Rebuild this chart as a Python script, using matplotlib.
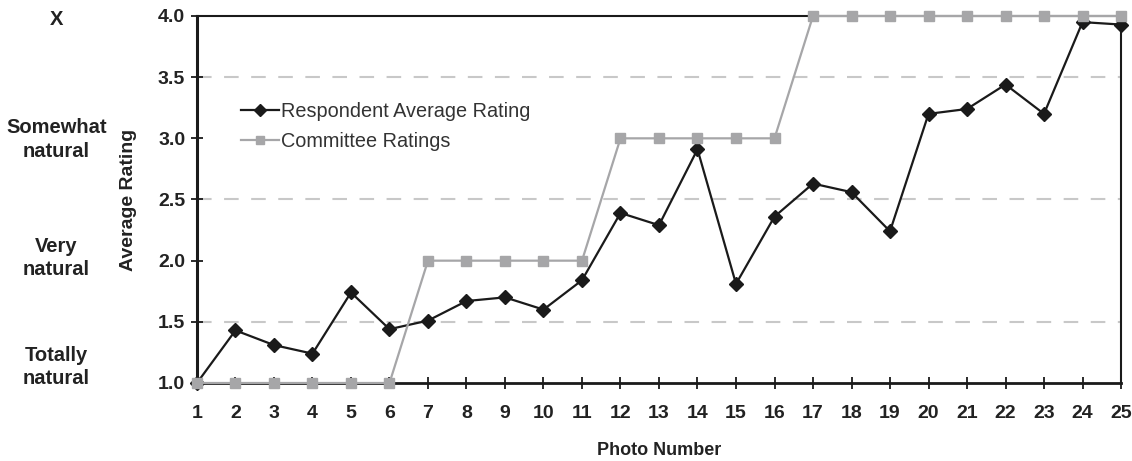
import numpy as np
import matplotlib
matplotlib.use("Agg")
import matplotlib.pyplot as plt
from matplotlib.transforms import blended_transform_factory

plt.rcParams["font.family"] = ["Liberation Sans", "DejaVu Sans"]
NARROW = ["Liberation Sans Narrow", "Liberation Sans", "DejaVu Sans"]

photos = np.arange(1, 26)
respondent = [1.00, 1.43, 1.31, 1.24, 1.74, 1.44, 1.51, 1.67, 1.70, 1.60,
              1.84, 2.39, 2.29, 2.91, 1.81, 2.36, 2.63, 2.56, 2.24, 3.20,
              3.24, 3.44, 3.20, 3.95, 3.93]
committee = [1, 1, 1, 1, 1, 1, 2, 2, 2, 2,
             2, 3, 3, 3, 3, 3, 4, 4, 4, 4,
             4, 4, 4, 4, 4]
y_ticks = [1.0, 1.5, 2.0, 2.5, 3.0, 3.5, 4.0]
grid_levels = [1.5, 2.5, 3.5]
scale_labels = [(3.97, "X"), (2.99, "Somewhat\nnatural"),
                (2.02, "Very\nnatural"), (1.13, "Totally\nnatural")]

TXT = "#222222"

fig = plt.figure(figsize=(11.32, 4.61), dpi=100)
ax = fig.add_axes([0.174, 0.1692, 0.8163, 0.7961])

for lvl in grid_levels:
    ax.axhline(lvl, color="#c8c8c8", lw=1.5, dashes=(7, 6), zorder=1)

ax.plot(photos, respondent, color="#1a1a1a", lw=1.6, marker="D",
        markersize=7, label="Respondent Average Rating", zorder=4, clip_on=False)
ax.plot(photos, committee, color="#a6a6a8", lw=1.6, marker="s",
        markersize=6.5, label="Committee Ratings", zorder=5, clip_on=False)

ax.set_xlim(1, 25)
ax.set_ylim(1.0, 4.0)
ax.set_xticks(photos)
ax.set_yticks(y_ticks)
ax.set_yticklabels([f"{v:.1f}" for v in y_ticks])

for side in ["left", "bottom", "top", "right"]:
    ax.spines[side].set_color("#1a1a1a")
    ax.spines[side].set_zorder(3)
ax.spines["left"].set_linewidth(2.2)
ax.spines["bottom"].set_linewidth(2.0)
ax.spines["top"].set_linewidth(1.5)
ax.spines["right"].set_linewidth(1.5)

ax.tick_params(axis="x", direction="inout", length=9, width=1.3,
               color="#1a1a1a", pad=11, labelcolor=TXT)
ax.tick_params(axis="y", direction="inout", length=9, width=1.3,
               color="#1a1a1a", pad=4, labelsize=14, labelcolor=TXT)
for lab in ax.get_xticklabels():
    lab.set_family(NARROW)
    lab.set_fontsize(14)
    lab.set_fontweight("bold")
for lab in ax.get_yticklabels():
    lab.set_fontweight("bold")

ax.set_xlabel("Photo Number", fontsize=13, fontweight="bold", color=TXT,
              family=NARROW, labelpad=15)
ax.set_ylabel("Average Rating", fontsize=14, fontweight="bold", color=TXT,
              labelpad=15)

# verbal anchors for the rating scale, left of the axis
trans = blended_transform_factory(fig.transFigure, ax.transData)
for yv, txt in scale_labels:
    fig.text(0.050, yv, txt, transform=trans, ha="center", va="center",
             fontsize=14.5, fontweight="bold", color=TXT, linespacing=1.3)

leg = ax.legend(loc="upper left", bbox_to_anchor=(0.048, 0.766), frameon=False,
                fontsize=14.3, handlelength=1.9, handletextpad=0.1,
                labelspacing=0.55, borderaxespad=0, borderpad=0,
                markerscale=0.85)
for t in leg.get_texts():
    t.set_color("#333333")

fig.savefig("out.png", dpi=100)
